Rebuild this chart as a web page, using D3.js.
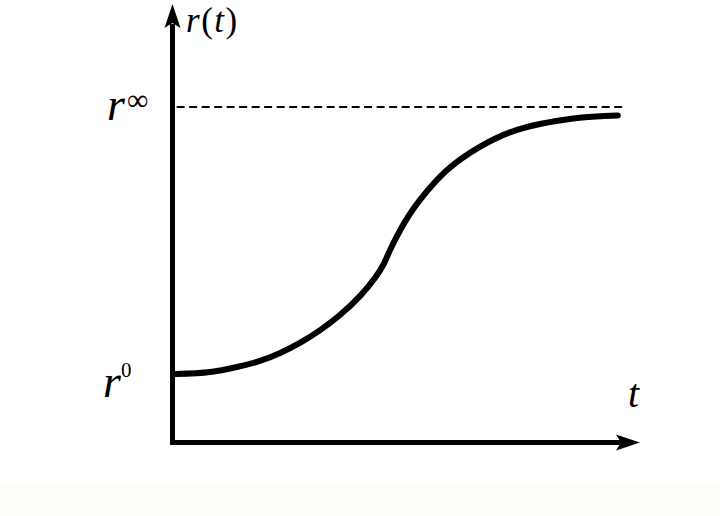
<!DOCTYPE html>
<html>
<head>
<meta charset="utf-8">
<script src="https://cdn.jsdelivr.net/npm/d3@7"></script>
<style>
  html, body { margin: 0; padding: 0; background: #ffffff; }
  svg { display: block; }
</style>
</head>
<body>
<script>
// Data (t in arbitrary units 0..100, r in arbitrary units 0..100, r∞ = 100)
const tValues = [0.8, 8.2, 14.0, 19.0, 23.4, 27.7, 32.1, 36.4, 40.8, 44.0, 45.8, 47.3, 48.8, 50.5, 53.8, 59.7, 66.8, 74.9, 87.1, 96.8];
const rValues = [20.4, 21.0, 22.5, 24.3, 26.7, 29.7, 33.5, 38.0, 43.7, 49.0, 52.9, 57.4, 61.5, 65.7, 72.3, 81.2, 88.1, 93.2, 96.6, 97.5];
const rInfinity = [100];
const dashStart = [0.9], dashEnd = [97.8];

const W = 720, H = 516;
const FONT = '"Liberation Serif", "Times New Roman", Times, "DejaVu Serif", serif';
const svg = d3.select("body").append("svg").attr("width", W).attr("height", H);

// faint off-white strip at bottom
svg.append("rect").attr("x", 0).attr("y", 484).attr("width", W).attr("height", H - 484).attr("fill", "#fefef8");

const x = d3.scaleLinear().domain([0, 100]).range([172.5, 632.5]);
const y = d3.scaleLinear().domain([0, 100]).range([442.5, 107]);

// axes lines
svg.append("line").attr("x1", x(0)).attr("x2", x(0)).attr("y1", y(0) + 2.5).attr("y2", 24)
  .attr("stroke", "#000").attr("stroke-width", 5);
svg.append("line").attr("x1", x(0) - 2.5).attr("x2", 624).attr("y1", y(0)).attr("y2", y(0))
  .attr("stroke", "#000").attr("stroke-width", 5);
// arrowheads
svg.append("path").attr("d", `M${x(0)},4 L${x(0)+8},28 L${x(0)},23 L${x(0)-8},28 Z`).attr("fill", "#000");
svg.append("path").attr("d", `M640,${y(0)} L616,${y(0)-8} L621,${y(0)} L616,${y(0)+8} Z`).attr("fill", "#000");

// dashed asymptote
svg.append("line").attr("x1", x(dashStart[0])).attr("x2", x(dashEnd[0]))
  .attr("y1", y(rInfinity[0])).attr("y2", y(rInfinity[0]))
  .attr("stroke", "#000").attr("stroke-width", 2).attr("stroke-dasharray", "8,4.5");

// curve
const pts = tValues.map((t, i) => [t, rValues[i]]);
const line = d3.line().x(d => x(d[0])).y(d => y(d[1])).curve(d3.curveCatmullRom.alpha(0.5));
svg.append("path").attr("d", line(pts)).attr("fill", "none").attr("stroke", "#000")
  .attr("stroke-width", 6).attr("stroke-linecap", "round");

function txt(xp, yp, size, italic, s) {
  return svg.append("text").attr("x", xp).attr("y", yp)
    .style("font-family", FONT)
    .style("font-size", size + "px").style("font-style", italic ? "italic" : "normal")
    .attr("fill", "#000").text(s);
}
// r(t) label
const lt = svg.append("text").attr("x", 186).attr("y", 32)
  .style("font-family", FONT).style("font-size", "35px").style("letter-spacing", "1.5px").attr("fill", "#000");
lt.append("tspan").style("font-style", "italic").text("r");
lt.append("tspan").text("(");
lt.append("tspan").style("font-style", "italic").text("t");
lt.append("tspan").text(")");

// r∞ label
txt(107, 120, 46, true, "r");
txt(127, 110, 30, false, "∞");

// r0 label
txt(103, 397, 46, true, "r");
txt(121, 377, 21, false, "0");

// t label
txt(628, 407, 40, true, "t");
</script>
</body>
</html>
